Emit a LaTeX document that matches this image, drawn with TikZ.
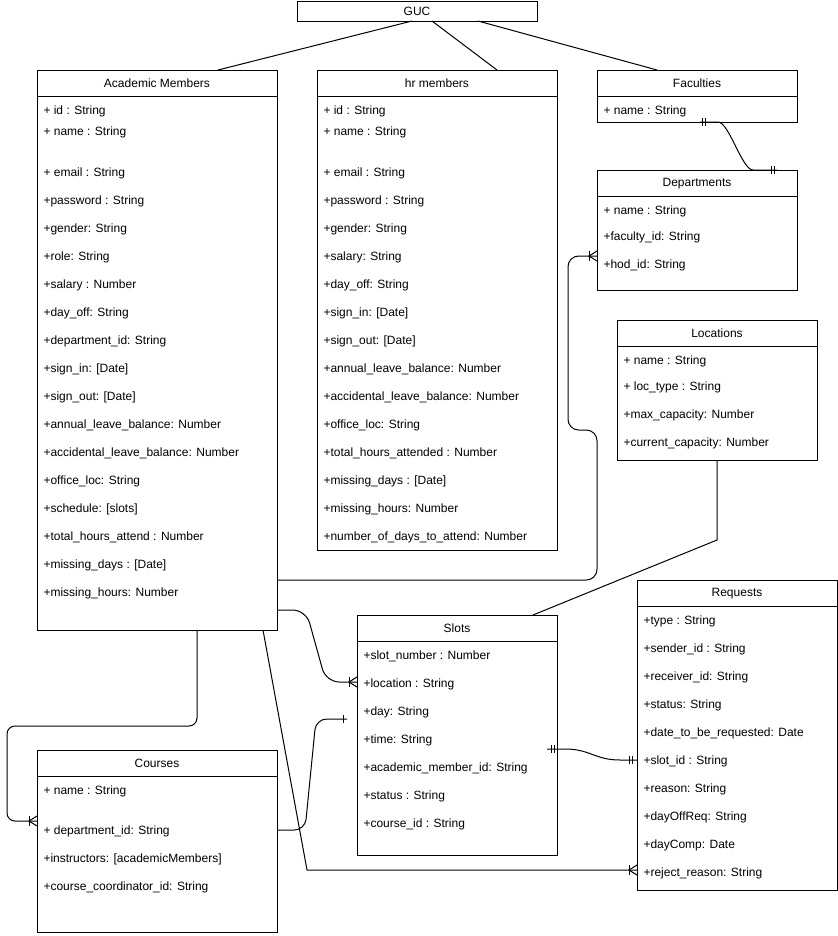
\documentclass[tikz,border=0pt]{standalone}
\usepackage{fontspec}
\setmainfont{Liberation Sans}
\usepackage{tikz}
\usetikzlibrary{positioning}
\usetikzlibrary{calc}

\tikzset{
  entity/.style={draw, anchor=north west, inner sep=0pt, outer sep=0pt},
  attr/.style={anchor=west, inner sep=0pt, xshift=0.75pt, yshift=-0.75pt},
  title/.style={yshift=-0.5pt},
}
% crow's foot (one or many), line coming in from the left
\newcommand{\manyend}[1]{%
  \draw ($(#1)+(-8,-5)$) -- ++(0,10);
  \draw ($(#1)+(0,-5)$) -- ($(#1)+(-8,0)$) -- ($(#1)+(0,5)$);}
% short bar across a horizontal line
\newcommand{\onebar}[2]{\draw ($(#1)+(#2,-4)$) -- ++(0,8);}

\begin{document}
\begin{tikzpicture}[x=0.75pt, y=-0.75pt, line width=0.75pt, every node/.style={font=\fontsize{9}{11}\selectfont}]

                \useasboundingbox (0,0) rectangle (838,936);

                % Boxes
                \node at (297,1) (guc) [entity, minimum width=180pt, minimum height=15pt] {GUC};
                \node at (37,70) (am) [entity, minimum width=180pt, minimum height=420pt] {};
                \node at (317,70) (hr) [entity, minimum width=180pt, minimum height=360pt] {};
                \node at (597,70) (fac) [entity, minimum width=150pt, minimum height=39pt] {};
                \node at (597,170) (dept) [entity, minimum width=150pt, minimum height=90pt] {};
                \node at (617,320) (loc) [entity, minimum width=150pt, minimum height=105pt] {};
                \node at (357,615) (slots) [entity, minimum width=150pt, minimum height=180pt] {};
                \node at (637,580) (req) [entity, minimum width=150pt, minimum height=232.5pt] {};
                \node at (37,750) (courses) [entity, minimum width=180pt, minimum height=136.5pt] {};

                % Titles
                \node at (157,83) (am-title) [title] {Academic Members};
                \node at (437,83) (hr-title) [title] {hr members};
                \node at (697,83) (fac-title) [title] {Faculties};
                \node at (697,183) (dept-title) [title] {Departments};
                \node at (717,333) (loc-title) [title] {Locations};
                \node at (457,628) (slots-title) [title] {Slots};
                \node at (737,593) (req-title) [title] {Requests};
                \node at (157,763) (courses-title) [title] {Courses};
                \draw (am.north west) ++(0,26) -- ++(240,0);
                \draw (hr.north west) ++(0,26) -- ++(240,0);
                \draw (fac.north west) ++(0,26) -- ++(200,0);
                \draw (dept.north west) ++(0,26) -- ++(200,0);
                \draw (loc.north west) ++(0,26) -- ++(200,0);
                \draw (slots.north west) ++(0,26) -- ++(200,0);
                \draw (req.north west) ++(0,26) -- ++(200,0);
                \draw (courses.north west) ++(0,26) -- ++(240,0);

                % Academic Members
                \node at (42,110) (am1) [attr] {+ id : String};
                \node at (42,131) (am2) [attr] {+ name : String};
                \node at (42,172) (am3) [attr] {+ email : String};
                \node at (42,200) (am4) [attr] {+password : String};
                \node at (42,228) (am5) [attr] {+gender: String};
                \node at (42,256) (am6) [attr] {+role: String};
                \node at (42,284) (am7) [attr] {+salary : Number};
                \node at (42,312) (am8) [attr] {+day\_off: String};
                \node at (42,340) (am9) [attr] {+department\_id: String};
                \node at (42,368) (am10) [attr] {+sign\_in: [Date]};
                \node at (42,396) (am11) [attr] {+sign\_out: [Date]};
                \node at (42,424) (am12) [attr] {+annual\_leave\_balance: Number};
                \node at (42,452) (am13) [attr] {+accidental\_leave\_balance: Number};
                \node at (42,480) (am14) [attr] {+office\_loc: String};
                \node at (42,508) (am15) [attr] {+schedule: [slots]};
                \node at (42,536) (am16) [attr] {+total\_hours\_attend : Number};
                \node at (42,564) (am17) [attr] {+missing\_days : [Date]};
                \node at (42,592) (am18) [attr] {+missing\_hours: Number};

                % hr members
                \node at (322,110) (hr1) [attr] {+ id : String};
                \node at (322,131) (hr2) [attr] {+ name : String};
                \node at (322,172) (hr3) [attr] {+ email : String};
                \node at (322,200) (hr4) [attr] {+password : String};
                \node at (322,228) (hr5) [attr] {+gender: String};
                \node at (322,256) (hr6) [attr] {+salary: String};
                \node at (322,284) (hr7) [attr] {+day\_off: String};
                \node at (322,312) (hr8) [attr] {+sign\_in: [Date]};
                \node at (322,340) (hr9) [attr] {+sign\_out: [Date]};
                \node at (322,368) (hr10) [attr] {+annual\_leave\_balance: Number};
                \node at (322,396) (hr11) [attr] {+accidental\_leave\_balance: Number};
                \node at (322,424) (hr12) [attr] {+office\_loc: String};
                \node at (322,452) (hr13) [attr] {+total\_hours\_attended : Number};
                \node at (322,480) (hr14) [attr] {+missing\_days : [Date]};
                \node at (322,508) (hr15) [attr] {+missing\_hours: Number};
                \node at (322,536) (hr16) [attr] {+number\_of\_days\_to\_attend: Number};

                % Faculties, Departments, Locations
                \node at (602,110) (fac1) [attr] {+ name : String};
                \node at (602,210) (dept1) [attr] {+ name : String};
                \node at (602,236) (dept2) [attr] {+faculty\_id: String};
                \node at (602,264) (dept3) [attr] {+hod\_id: String};
                \node at (622,360) (loc1) [attr] {+ name : String};
                \node at (622,386) (loc2) [attr] {+ loc\_type : String};
                \node at (622,414) (loc3) [attr] {+max\_capacity: Number};
                \node at (622,442) (loc4) [attr] {+current\_capacity: Number};

                % Slots
                \node at (362,655) (slots1) [attr] {+slot\_number : Number};
                \node at (362,683) (slots2) [attr] {+location : String};
                \node at (362,711) (slots3) [attr] {+day: String};
                \node at (362,739) (slots4) [attr] {+time: String};
                \node at (362,767) (slots5) [attr] {+academic\_member\_id: String};
                \node at (362,795) (slots6) [attr] {+status : String};
                \node at (362,823) (slots7) [attr] {+course\_id : String};

                % Requests
                \node at (642,620) (req1) [attr] {+type : String};
                \node at (642,648) (req2) [attr] {+sender\_id : String};
                \node at (642,676) (req3) [attr] {+receiver\_id: String};
                \node at (642,704) (req4) [attr] {+status: String};
                \node at (642,732) (req5) [attr] {+date\_to\_be\_requested: Date};
                \node at (642,760) (req6) [attr] {+slot\_id : String};
                \node at (642,788) (req7) [attr] {+reason: String};
                \node at (642,816) (req8) [attr] {+dayOffReq: String};
                \node at (642,844) (req9) [attr] {+dayComp: Date};
                \node at (642,872) (req10) [attr] {+reject\_reason: String};

                % Courses
                \node at (42,790) (courses1) [attr] {+ name : String};
                \node at (42,830) (courses2) [attr] {+ department\_id: String};
                \node at (42,858) (courses3) [attr] {+instructors: [academicMembers]};
                \node at (42,886) (courses4) [attr] {+course\_coordinator\_id: String};

                % Connector ends
                \coordinate (fac-out) at ($(fac.south west)+(103,0)$);
                \coordinate (dept-in) at ($(dept.north west)+(180,0)$);
                \coordinate (dept-many) at ($(dept.north west)+(0,86)$);
                \coordinate (slots-many) at ($(slots.north west)+(0,67)$);
                \coordinate (slots-bar) at ($(slots.north west)+(-10,104)$);
                \coordinate (slots-out) at ($(slots.north east)+(-10,134)$);
                \coordinate (req-one) at ($(req.north west)+(0,180)$);
                \coordinate (req-many) at ($(req.north west)+(0,290)$);
                \coordinate (courses-many) at ($(courses.north west)+(0,71)$);

                % Lines
                \draw ($(guc.south west)+(115,0)$) -- ($(am.north west)+(181,0)$);
                \draw ($(guc.south west)+(135,0)$) -- ($(hr.north west)+(180,0)$);
                \draw ($(guc.south west)+(181,0)$) -- ($(fac.north west)+(60,0)$);
                \draw (fac-out) -- (718,122) .. controls (729,122) and (742,170) .. (753,170) -- (dept-in);
                \draw[rounded corners=8] ($(am.north east)+(0,510)$) -- (597,580) -- (597,430) -- (568,430) -- (568,256) -- (dept-many);
                \draw[rounded corners=10] ($(am.north east)+(0,540)$) -- (306,610) -- (326,682) -- (slots-many);
                \draw[rounded corners=6] ($(am.south west)+(160,0)$) -- (197,726) -- (7,726) -- (7,821) -- (courses-many);
                \draw[rounded corners=8] ($(courses.north east)+(0,80)$) -- (305,830) -- (316,719) -- (slots-bar);
                \draw ($(am.south west)+(226,0)$) -- (307,870) -- (req-many);
                \draw (slots-out) -- (565,749) .. controls (590,749) and (595,760) .. (620,760) -- (req-one);
                \draw ($(loc.south west)+(100,0)$) -- (717,540) -- ($(slots.north west)+(176,0)$);

                % Ends
                \onebar{fac-out}{2} \onebar{fac-out}{5}
                \onebar{dept-in}{-6} \onebar{dept-in}{-3}
                \onebar{slots-out}{4} \onebar{slots-out}{7}
                \onebar{req-one}{-8} \onebar{req-one}{-5}
                \onebar{slots-bar}{-4}
                \manyend{dept-many}
                \manyend{slots-many}
                \manyend{courses-many}
                \manyend{req-many}

\end{tikzpicture}
\end{document}
